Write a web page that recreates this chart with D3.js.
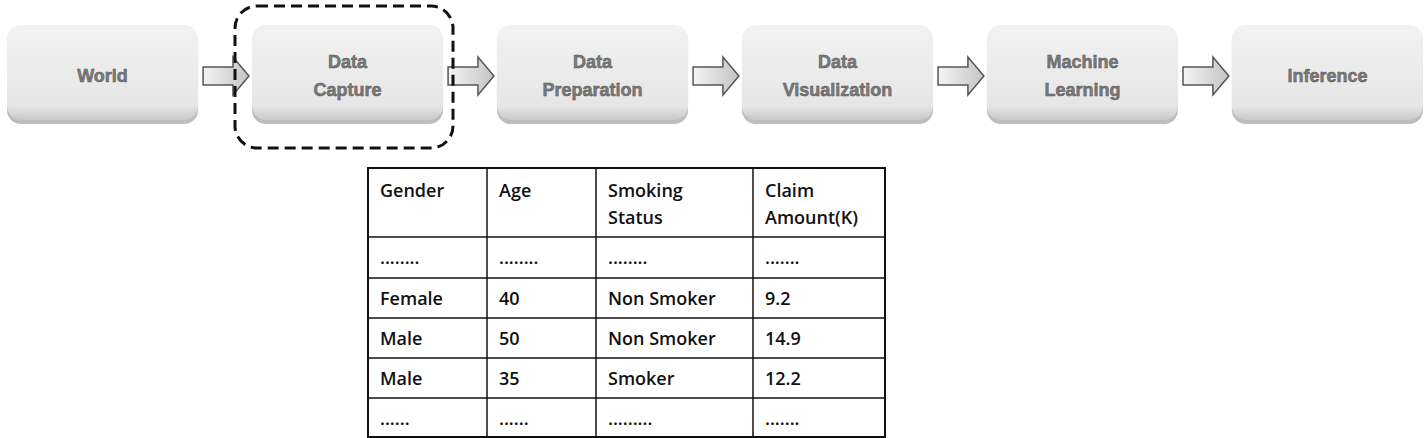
<!DOCTYPE html>
<html><head><meta charset="utf-8">
<script src="https://cdn.jsdelivr.net/npm/d3@7"></script>
<style>body{margin:0;background:#fff}</style></head>
<body><svg id="c" width="1425" height="438"></svg>
<script>
const steps = [["World"],["Data","Capture"],["Data","Preparation"],["Data","Visualization"],["Machine","Learning"],["Inference"]];
const headers = [["Gender"],["Age"],["Smoking","Status"],["Claim","Amount(K)"]];
const rows = [
 ["........","........","........","......."],
 ["Female","40","Non Smoker","9.2"],
 ["Male","50","Non Smoker","14.9"],
 ["Male","35","Smoker","12.2"],
 ["......","......",".........","......."]
];
const colEdges = [368,487,596,753,885];

const svg = d3.select("#c");
const defs = svg.append("defs");
const g = defs.append("linearGradient").attr("id","bg").attr("x1",0).attr("y1",0).attr("x2",0).attr("y2",1);
g.append("stop").attr("offset","0").attr("stop-color","#f2f2f2");
g.append("stop").attr("offset","0.85").attr("stop-color","#e6e6e6");
g.append("stop").attr("offset","1").attr("stop-color","#c8c8c8");
const ag = defs.append("linearGradient").attr("id","ag").attr("x1",0).attr("y1",0).attr("x2",1).attr("y2",0);
ag.append("stop").attr("offset","0").attr("stop-color","#f4f4f4");
ag.append("stop").attr("offset","1").attr("stop-color","#c4c4c4");

const x = d3.scaleBand().domain(d3.range(steps.length)).range([7,1423]).paddingInner(0.22).paddingOuter(0);
const bw = x.bandwidth();
steps.forEach((s,i)=>{
  const x0 = x(i);
  svg.append("rect").attr("x",x0).attr("y",27).attr("width",bw).attr("height",97).attr("rx",14).attr("fill","#bdbdbd");
  svg.append("rect").attr("x",x0).attr("y",25).attr("width",bw).attr("height",95).attr("rx",14).attr("fill","url(#bg)");
  const t = svg.append("text").attr("x",x0+bw/2).attr("text-anchor","middle")
    .attr("font-family","Liberation Sans, Arial").attr("font-weight","bold").attr("font-size",18)
    .attr("fill","#7b7b7b").attr("stroke","#555").attr("stroke-width",0.5);
  const cy = 76;
  s.forEach((l,j)=>t.append("tspan").attr("x",x0+bw/2).attr("y",cy + (j-(s.length-1)/2)*28 + 6).text(l));
  if(i<steps.length-1){
    const a = x0+bw+5, b = x(i+1)-3, m=76;
    const p = `M${a},${m-9}L${b-16},${m-9}L${b-16},${m-19}L${b},${m}L${b-16},${m+19}L${b-16},${m+9}L${a},${m+9}Z`;
    svg.append("path").attr("d",p).attr("fill","url(#ag)").attr("stroke","#555").attr("stroke-width",1.5);
  }
});
svg.append("rect").attr("x",235).attr("y",6).attr("width",218).attr("height",142).attr("rx",22)
  .attr("fill","none").attr("stroke","#111").attr("stroke-width",3).attr("stroke-dasharray","11,6");

// table
const rowEdges=[168,237,278,318,358,398,437];
const tb = svg.append("g").attr("font-family","Open Sans, Liberation Sans").attr("font-weight","600").attr("font-size",18).attr("fill","#111");
svg.append("rect").attr("x",colEdges[0]).attr("y",rowEdges[0]).attr("width",colEdges[4]-colEdges[0]).attr("height",rowEdges[6]-rowEdges[0]).attr("fill","none").attr("stroke","#111").attr("stroke-width",2);
colEdges.slice(1,-1).forEach(c=>svg.append("line").attr("x1",c).attr("x2",c).attr("y1",rowEdges[0]).attr("y2",rowEdges[6]).attr("stroke","#111").attr("stroke-width",1.5));
rowEdges.slice(1,-1).forEach(r=>svg.append("line").attr("x1",colEdges[0]).attr("x2",colEdges[4]).attr("y1",r).attr("y2",r).attr("stroke","#111").attr("stroke-width",1.5));
headers.forEach((h,i)=>h.forEach((l,j)=>tb.append("text").attr("x",colEdges[i]+12).attr("y",197+j*27).text(l)));
rows.forEach((r,ri)=>r.forEach((v,ci)=>tb.append("text").attr("x",colEdges[ci]+12).attr("y",rowEdges[ri+1]+27).text(v)));
</script></body></html>
